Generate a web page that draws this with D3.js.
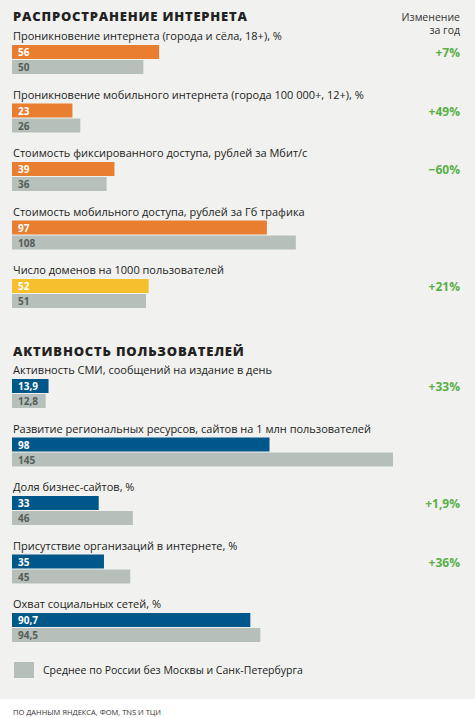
<!DOCTYPE html>
<html><head><meta charset="utf-8">
<script src="https://cdn.jsdelivr.net/npm/d3@7"></script>
<style>body{margin:0;background:#fff;font-family:"Open Sans",sans-serif}</style>
</head><body><div id="chart"></div>
<script>
// section 1
const labels1 = ["Проникновение интернета (города и сёла, 18+), %",
  "Проникновение мобильного интернета (города 100 000+, 12+), %",
  "Стоимость фиксированного доступа, рублей за Мбит/с",
  "Стоимость мобильного доступа, рублей за Гб трафика",
  "Число доменов на 1000 пользователей"];
const main1 = [56, 23, 39, 97, 52];
const avg1 = [50, 26, 36, 108, 51];
const change1 = ["+7%", "+49%", "−60%", "", "+21%"];
// section 2
const labels2 = ["Активность СМИ, сообщений на издание в день",
  "Развитие региональных ресурсов, сайтов на 1 млн пользователей",
  "Доля бизнес-сайтов, %",
  "Присутствие организаций в интернете, %",
  "Охват социальных сетей, %"];
const main2 = [13.9, 98, 33, 35, 90.7];
const avg2 = [12.8, 145, 46, 45, 94.5];
const change2 = ["+33%", "", "+1,9%", "+36%", ""];

const W = 475, H = 718;
const svg = d3.select("#chart").append("svg").attr("width", W).attr("height", H);
svg.append("rect").attr("width", W).attr("height", 699).attr("fill", "#f1f2ef");

const x = d3.scaleLinear().domain([0, 145]).range([12, 393]);
const fmt = v => String(v).replace(".", ",");

function section(title, titleY, firstY, labels, main, avg, change, colorFn) {
  svg.append("text").attr("x", 13).attr("y", titleY).text(title)
    .attr("font-size", 13).attr("font-weight", 800).attr("letter-spacing", 0.8).attr("fill", "#222");
  const y = d3.scaleLinear().domain([0, 1]).range([firstY, firstY + 58.5]);
  labels.forEach((lab, i) => {
    const ly = y(i);
    svg.append("text").attr("x", 13).attr("y", ly).text(lab).attr("font-size", 11).attr("fill", "#222");
    svg.append("rect").attr("x", x(0)).attr("y", ly + 5).attr("width", x(main[i]) - x(0)).attr("height", 14).attr("fill", colorFn(i));
    svg.append("rect").attr("x", x(0)).attr("y", ly + 20).attr("width", x(avg[i]) - x(0)).attr("height", 14).attr("fill", "#b6bfb9");
    svg.append("text").attr("x", 18).attr("y", ly + 16).text(fmt(main[i]))
      .attr("font-size", 10).attr("font-weight", 700).attr("fill", "#fff");
    svg.append("text").attr("x", 18).attr("y", ly + 31).text(fmt(avg[i]))
      .attr("font-size", 10).attr("font-weight", 700).attr("fill", "#555d59");
    if (change[i]) svg.append("text").attr("x", 460).attr("y", ly + 17).attr("text-anchor", "end").text(change[i])
      .attr("font-size", 12).attr("font-weight", 700).attr("fill", "#5aaf47");
  });
}

svg.append("text").attr("x", 460).attr("y", 21).attr("text-anchor", "end").text("Изменение")
  .attr("font-size", 10.5).attr("fill", "#333");
svg.append("text").attr("x", 460).attr("y", 34).attr("text-anchor", "end").text("за год")
  .attr("font-size", 10.5).attr("fill", "#333");

section("РАСПРОСТРАНЕНИЕ ИНТЕРНЕТА", 21, 40, labels1, main1, avg1, change1, i => i === 4 ? "#f6bf2c" : "#e97e30");
section("АКТИВНОСТЬ ПОЛЬЗОВАТЕЛЕЙ", 356, 374, labels2, main2, avg2, change2, () => "#00578a");

svg.append("rect").attr("x", 14).attr("y", 662).attr("width", 20).attr("height", 16).attr("fill", "#b6bfb9");
svg.append("text").attr("x", 43).attr("y", 674).text("Среднее по России без Москвы и Санк-Петербурга")
  .attr("font-size", 10.5).attr("fill", "#222");
svg.append("text").attr("x", 13).attr("y", 715).text("ПО ДАННЫМ ЯНДЕКСА, ФОМ, TNS И ТЦИ")
  .attr("font-size", 7.5).attr("fill", "#333");
</script></body></html>
